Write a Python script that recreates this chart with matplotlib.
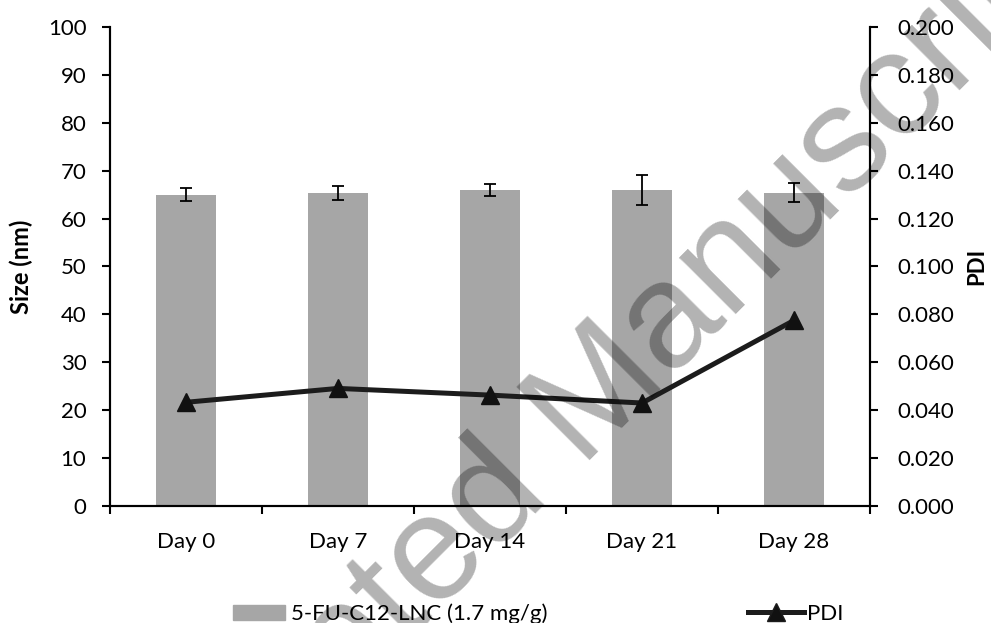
import numpy as np
import matplotlib
matplotlib.use('Agg')
import matplotlib.pyplot as plt
from matplotlib.lines import Line2D
from matplotlib.patches import Patch

plt.rcParams['font.family'] = ['Lato', 'DejaVu Sans']

days = ['Day 0', 'Day 7', 'Day 14', 'Day 21', 'Day 28']
size_nm = [65.0, 65.4, 66.0, 66.0, 65.4]
size_err = [1.4, 1.5, 1.2, 3.2, 2.0]
pdi = [0.0433, 0.0491, 0.0463, 0.0430, 0.0775]

bar_label = '5-FU-C12-LNC (1.7 mg/g)'
line_label = 'PDI'

W, H = 991, 623
fig = plt.figure(figsize=(W / 100, H / 100), dpi=100)
ax = fig.add_axes([110 / W, 1 - 506 / H, 760 / W, 479 / H])
ax2 = ax.twinx()

x = np.arange(len(days))
ax.bar(x, size_nm, width=0.4, color='#a6a6a6', zorder=2)
ax.errorbar(x, size_nm, yerr=size_err, fmt='none', ecolor='black',
            elinewidth=1.3, capsize=4.5, capthick=1.3, zorder=3)
ax2.plot(x, pdi, color='#1c1c1c', linewidth=3.6, marker='^',
         markersize=13, markerfacecolor='#111111', markeredgecolor='#111111')

fs = 16
ax.set_xlim(-0.5, len(days) - 0.5)
ax.set_ylim(0, 100)
ax.set_yticks(np.arange(0, 101, 10))
ax2.set_ylim(0, 0.2)
ax2.set_yticks(np.arange(0, 0.201, 0.02))
ax2.set_yticklabels([f'{v:.3f}' for v in np.arange(0, 0.201, 0.02)])

ax.set_xticks(x)
ax.set_xticklabels(days)
ax.set_xticks(np.arange(-0.5, len(days), 1), minor=True)
ax.tick_params(axis='x', which='major', length=0, pad=19, labelsize=fs)
ax.tick_params(axis='x', which='minor', length=6, width=1.5, direction='out')
ax.tick_params(axis='y', length=6, width=1.5, pad=11, labelsize=fs)
ax2.tick_params(axis='y', length=6, width=1.5, pad=14, labelsize=fs)

for a in (ax, ax2):
    a.spines['top'].set_visible(False)
    for s in ('left', 'right', 'bottom'):
        a.spines[s].set_linewidth(1.5)

ax.set_ylabel('Size (nm)', fontsize=17, fontweight='bold')
ax.yaxis.set_label_coords((33 - 110) / 760, 0.5)
ax2.set_ylabel('PDI', fontsize=16, fontweight='bold')
ax2.yaxis.set_label_coords((966 - 110) / 760, 0.5)

# legend below the plot
fig.legend(handles=[Patch(color='#a6a6a6', label=bar_label)],
           loc='center left', bbox_to_anchor=(233 / W, 1 - 614 / H),
           frameon=False, fontsize=fs, borderpad=0, borderaxespad=0,
           handlelength=2.35, handletextpad=0.25)
fig.legend(handles=[Line2D([], [], color='#1c1c1c', linewidth=3.6, marker='^',
                           markersize=13, markerfacecolor='#111111',
                           label=line_label)],
           loc='center left', bbox_to_anchor=(748 / W, 1 - 614 / H),
           frameon=False, fontsize=fs, borderpad=0, borderaxespad=0,
           handlelength=2.5, handletextpad=0.15)

# watermark
fig.text(605 / W, 1 - 445 / H, 'Accepted Manuscript', family='Liberation Sans',
         fontsize=108, color='black', alpha=0.3, rotation=45,
         rotation_mode='anchor', ha='center', va='baseline', zorder=10)

fig.savefig('out.png', dpi=100)
